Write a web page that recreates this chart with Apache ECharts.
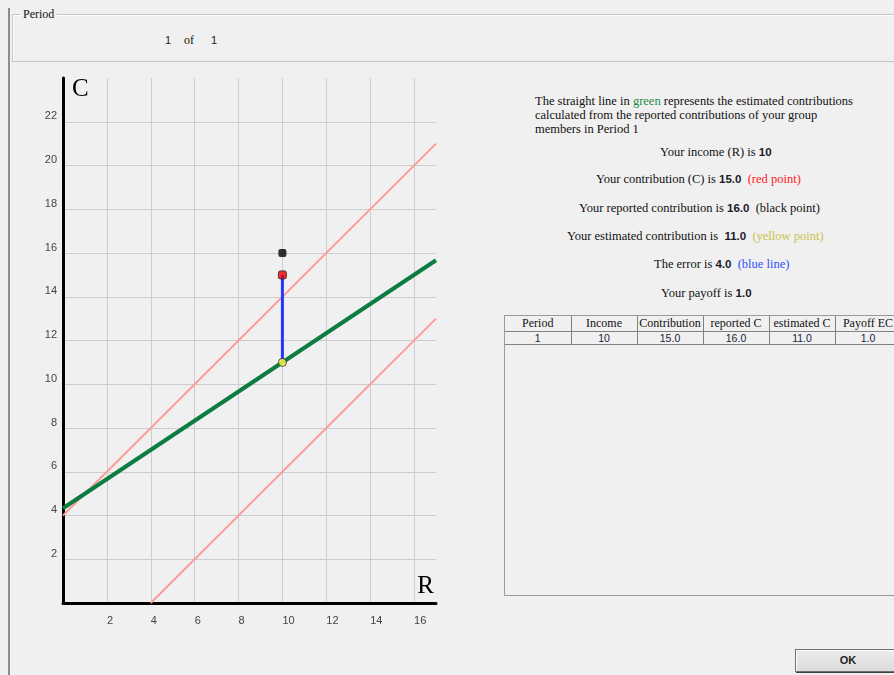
<!DOCTYPE html>
<html>
<head>
<meta charset="utf-8">
<script src="https://cdn.jsdelivr.net/npm/echarts@6/dist/echarts.min.js"></script>
<style>
  html, body { margin:0; padding:0; width:894px; height:675px; overflow:hidden; background:#f0f0f0; }
  .abs { position:absolute; white-space:nowrap; }
  .serif { font-family:"Liberation Serif", "Times New Roman", serif; }
  .sans { font-family:"Liberation Sans", Arial, sans-serif; }
  #leftbar { position:absolute; left:8px; top:8px; width:2px; height:667px; background:#8c8c8c; }
  #periodbox { position:absolute; left:12px; top:14px; width:900px; height:46px; border:1px solid #c4c4c4; box-shadow: 1px 1px 0 #fff inset; }
  #periodlabel { left:20px; top:7px; font-size:12px; padding:0 3px; background:#f0f0f0; color:#111; }
  .num { font-family:"Liberation Sans", Arial, sans-serif; font-weight:bold; font-size:11.5px; color:#1a1a2a; }
  .line { font-family:"Liberation Serif", "Times New Roman", serif; font-size:12.5px; color:#111; }
  #tablebox { position:absolute; left:504px; top:315px; width:420px; height:279px; border:1px solid #9a9a9a; border-right:none; }
  table { border-collapse:collapse; table-layout:fixed; }
  th { font-family:"Liberation Serif", "Times New Roman", serif; font-weight:normal; font-size:12px; color:#111; height:15px; padding:0; border:1px solid #808080; border-top:none; white-space:nowrap; overflow:hidden; }
  td { font-family:"Liberation Sans", Arial, sans-serif; font-size:10.5px; color:#1a1a40; height:11px; padding:0; border:1px solid #808080; text-align:center; }
  th:first-child, td:first-child { border-left:none; }
  #okbtn { position:absolute; left:795px; top:649px; width:104px; height:21px; border:1px solid #707070; box-shadow: inset 1px 1px 0 #fff, 1px 1px 0 #404040; background:linear-gradient(#ececec,#dcdcdc); font-family:"Liberation Sans", Arial, sans-serif; font-weight:bold; font-size:11px; color:#222; text-align:center; line-height:21px; }
  #chart { position:absolute; left:0; top:0; width:480px; height:660px; }
</style>
</head>
<body>
<div id="leftbar"></div>
<div id="periodbox"></div>
<div id="periodlabel" class="abs serif">Period</div>
<div class="abs sans" style="left:165px;top:34px;font-size:11px;color:#222">1</div>
<div class="abs serif" style="left:184px;top:33px;font-size:12px;color:#111">of</div>
<div class="abs sans" style="left:211px;top:34px;font-size:11px;color:#222">1</div>

<div id="chart"></div>

<div id="info"></div>
<div id="tablebox"><table id="tbl"></table></div>
<div id="okbtn">OK</div>

<script>
// ---- data ----
const income = 10;            // R
const contribution = 15.0;    // C (red point)
const reported = 16.0;        // black point
const estimated = 11.0;       // yellow point
const errorVal = 4.0;
const payoff = 1.0;
const upperBand = [[0, 4], [17, 21]];
const lowerBand = [[4, 0], [17, 13]];
const greenLine = [[0, 4.33], [17, 15.67]];
const xTicks = [2, 4, 6, 8, 10, 12, 14, 16];
const yTicks = [2, 4, 6, 8, 10, 12, 14, 16, 18, 20, 22];
const tableHeaders = ["Period", "Income", "Contribution", "reported C", "estimated C", "Payoff EC"];
const tableRow = ["1", "10", "15.0", "16.0", "11.0", "1.0"];

// ---- text panel ----
const info = document.getElementById('info');
const lines = [
  {left:535, top:94, html:'The straight line in <span style="color:#1e8a4a">green</span> represents the estimated contributions<br>calculated from the reported contributions of your group<br>members in Period 1', lh:14},
  {left:660, top:145, html:'Your income (R) is <span class="num">' + income + '</span>'},
  {left:596, top:172, html:'Your contribution (C) is <span class="num">' + contribution.toFixed(1) + '</span>&nbsp; <span style="color:#ff1a1a">(red point)</span>'},
  {left:579, top:201, html:'Your reported contribution is <span class="num">' + reported.toFixed(1) + '</span>&nbsp; (black point)'},
  {left:567, top:229, html:'Your estimated contribution is &nbsp;<span class="num">' + estimated.toFixed(1) + '</span>&nbsp; <span style="color:#c8c24a">(yellow point)</span>'},
  {left:654, top:257, html:'The error is <span class="num">' + errorVal.toFixed(1) + '</span>&nbsp; <span style="color:#3050ff">(blue line)</span>'},
  {left:661, top:286, html:'Your payoff is <span class="num">' + payoff.toFixed(1) + '</span>'}
];
lines.forEach(l => {
  const d = document.createElement('div');
  d.className = 'abs line';
  d.style.left = l.left + 'px';
  d.style.top = l.top + 'px';
  if (l.lh) d.style.lineHeight = l.lh + 'px';
  d.innerHTML = l.html;
  info.appendChild(d);
});

// ---- table ----
const tbl = document.getElementById('tbl');
let h = '<colgroup>' + tableHeaders.map(() => '<col style="width:66px">').join('') + '</colgroup>';
h += '<tr>' + tableHeaders.map(t => '<th>' + t + '</th>').join('') + '</tr>';
h += '<tr>' + tableRow.map(t => '<td>' + t + '</td>').join('') + '</tr>';
tbl.innerHTML = h;

// ---- chart ----
const chart = echarts.init(document.getElementById('chart'), null, {renderer:'canvas'});
const labelStyle = {color:'#444', fontSize:11, fontFamily:'Liberation Sans, Arial, sans-serif'};
chart.setOption({
  backgroundColor:'transparent',
  animation:false,
  grid:{left:63, top:78, width:373, height:525, containLabel:false},
  xAxis:{
    type:'value', min:0, max:17, interval:2,
    name:'R', nameLocation:'end', nameGap:0,
    nameTextStyle:{fontFamily:'Liberation Serif, Times New Roman, serif', fontSize:25, color:'#000', align:'right', verticalAlign:'bottom', padding:[0,2,4,0]},
    axisLine:{show:true, onZero:false, lineStyle:{color:'#000', width:3}},
    axisTick:{show:false},
    axisLabel:Object.assign({formatter:v => xTicks.includes(v) ? String(v) : '', align:'left', margin:12, showMaxLabel:false}, labelStyle),
    splitLine:{show:true, showMinLine:false, showMaxLine:false, lineStyle:{color:'#cdcdcd', width:1}}
  },
  yAxis:{
    type:'value', min:0, max:24, interval:2,
    name:'C', nameLocation:'end', nameGap:-24,
    nameTextStyle:{fontFamily:'Liberation Serif, Times New Roman, serif', fontSize:25, color:'#000', align:'left', verticalAlign:'bottom', padding:[0,0,0,9]},
    axisLine:{show:true, onZero:false, lineStyle:{color:'#000', width:3}},
    axisTick:{show:false},
    axisLabel:Object.assign({formatter:v => yTicks.includes(v) ? String(v) : '', verticalAlign:'bottom', margin:6, padding:[0,0,0,0]}, labelStyle),
    splitLine:{show:true, showMinLine:false, showMaxLine:false, lineStyle:{color:'#cdcdcd', width:1}}
  },
  series:[
    {type:'line', data:upperBand, symbol:'none', lineStyle:{color:'#ff9a9a', width:2}, z:2},
    {type:'line', data:lowerBand, symbol:'none', lineStyle:{color:'#ff9a9a', width:2}, z:2},
    {type:'line', data:greenLine, symbol:'none', lineStyle:{color:'#0b7d40', width:4}, z:3},
    {type:'line', data:[[income, estimated],[income, contribution]], symbol:'none', lineStyle:{color:'#2238ff', width:3}, z:4},
    {type:'scatter', data:[[income, reported]], symbol:'roundRect', symbolSize:8, itemStyle:{color:'#000'}, z:5},
    {type:'scatter', data:[[income, contribution]], symbol:'roundRect', symbolSize:8, itemStyle:{color:'#ee0000', borderColor:'#222', borderWidth:1}, z:5},
    {type:'scatter', data:[[income, estimated]], symbolSize:8, itemStyle:{color:'#ffff44', borderColor:'#222', borderWidth:1}, z:5}
  ]
});
</script>
</body>
</html>
